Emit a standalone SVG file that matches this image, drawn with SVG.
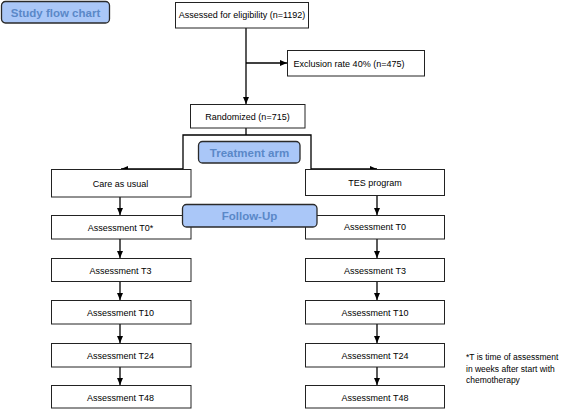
<svg xmlns="http://www.w3.org/2000/svg" width="565" height="409" viewBox="0 0 565 409">
<defs>
<marker id="ah" markerUnits="userSpaceOnUse" markerWidth="7" markerHeight="6" refX="7" refY="3" orient="auto">
<path d="M0,0 L7,3 L0,6 z" fill="#000"/>
</marker>
<style>
.box{fill:#fff;stroke:#222;stroke-width:1}
.t{font-family:"Liberation Sans",Arial,sans-serif;font-size:9px;fill:#000;text-anchor:middle}
.badge{fill:#aac7f8;stroke:#2a2a2a;stroke-width:1.3}
.bt{font-family:"Liberation Sans",Arial,sans-serif;font-size:11.5px;font-weight:bold;fill:#5a88c8;text-anchor:middle}
.c{fill:none;stroke:#000;stroke-width:1.3}
.note{font-family:"Liberation Sans",Arial,sans-serif;font-size:8.5px;fill:#000}
</style>
</defs>
<rect width="565" height="409" fill="#fff"/>
<g id="connectors">
<path class="c" d="M246,28 V104" marker-end="url(#ah)"/>
<path class="c" d="M246,63 H287" marker-end="url(#ah)"/>
<path class="c" d="M246,128 V135"/>
<path class="c" d="M246,135 H183 V169 H121" marker-end="url(#ah)"/>
<path class="c" d="M246,135 H311 V169 H377" marker-end="url(#ah)"/>
<path class="c" d="M120,197 V215" marker-end="url(#ah)"/>
<path class="c" d="M120,239 V258" marker-end="url(#ah)"/>
<path class="c" d="M120,281 V300" marker-end="url(#ah)"/>
<path class="c" d="M120,324 V343" marker-end="url(#ah)"/>
<path class="c" d="M120,367 V385" marker-end="url(#ah)"/>
<path class="c" d="M377,195 V215" marker-end="url(#ah)"/>
<path class="c" d="M377,239 V258" marker-end="url(#ah)"/>
<path class="c" d="M377,281 V300" marker-end="url(#ah)"/>
<path class="c" d="M377,324 V343" marker-end="url(#ah)"/>
<path class="c" d="M377,367 V385" marker-end="url(#ah)"/>
</g>
<g id="study-flow-chart">
<rect class="badge" x="1.5" y="1.5" width="108" height="21.5" rx="4"/>
<text class="bt" x="55.5" y="16.5">Study flow chart</text>
</g>
<g id="assessed">
<rect class="box" x="175.5" y="2.5" width="133" height="25.5"/>
<text class="t" x="242" y="18">Assessed for eligibility (n=1192)</text>
</g>
<g id="exclusion">
<rect class="box" x="287.5" y="50.5" width="137" height="25.5"/>
<text class="t" x="349" y="66.5">Exclusion rate 40% (n=475)</text>
</g>
<g id="randomized">
<rect class="box" x="190.5" y="104.5" width="114.5" height="23.5"/>
<text class="t" x="247.5" y="119.5">Randomized (n=715)</text>
</g>
<g id="care-as-usual">
<rect class="box" x="51.5" y="169.5" width="139.5" height="27.5"/>
<text class="t" x="120.5" y="186.5">Care as usual</text>
</g>
<g id="tes-program">
<rect class="box" x="305.5" y="169.5" width="139" height="26"/>
<text class="t" x="375" y="185.5">TES program</text>
</g>
<g id="left-t0">
<rect class="box" x="51.5" y="215.5" width="139.5" height="23.5"/>
<text class="t" x="120.5" y="231">Assessment T0*</text>
</g>
<g id="right-t0">
<rect class="box" x="305.5" y="215.5" width="139" height="23.5"/>
<text class="t" x="375" y="230">Assessment T0</text>
</g>
<g id="left-t3">
<rect class="box" x="51.5" y="258.5" width="139.5" height="23"/>
<text class="t" x="120.5" y="273.5">Assessment T3</text>
</g>
<g id="right-t3">
<rect class="box" x="305.5" y="258.5" width="139" height="23"/>
<text class="t" x="375" y="273.5">Assessment T3</text>
</g>
<g id="left-t10">
<rect class="box" x="51.5" y="300.5" width="139.5" height="23.5"/>
<text class="t" x="120.5" y="316">Assessment T10</text>
</g>
<g id="right-t10">
<rect class="box" x="305.5" y="300.5" width="139" height="23.5"/>
<text class="t" x="375" y="316">Assessment T10</text>
</g>
<g id="left-t24">
<rect class="box" x="51.5" y="343.5" width="139.5" height="23.5"/>
<text class="t" x="120.5" y="359">Assessment T24</text>
</g>
<g id="right-t24">
<rect class="box" x="305.5" y="343.5" width="139" height="23.5"/>
<text class="t" x="375" y="359">Assessment T24</text>
</g>
<g id="left-t48">
<rect class="box" x="51.5" y="385.5" width="139.5" height="22.5"/>
<text class="t" x="120.5" y="400.5">Assessment T48</text>
</g>
<g id="right-t48">
<rect class="box" x="305.5" y="385.5" width="139" height="22.5"/>
<text class="t" x="375" y="400.5">Assessment T48</text>
</g>
<g id="treatment-arm">
<rect class="badge" x="198.5" y="141.5" width="101.5" height="21.5" rx="4"/>
<text class="bt" x="249.5" y="156.5">Treatment arm</text>
</g>
<g id="follow-up">
<rect class="badge" x="182.5" y="204.5" width="134.5" height="22.5" rx="4"/>
<text class="bt" x="249.5" y="220">Follow-Up</text>
</g>
<g id="footnote">
<text class="note" x="466" y="360">*T is time of assessment</text>
<text class="note" x="466" y="371.5">in weeks after start with</text>
<text class="note" x="466" y="383">chemotherapy</text>
</g>
</svg>
